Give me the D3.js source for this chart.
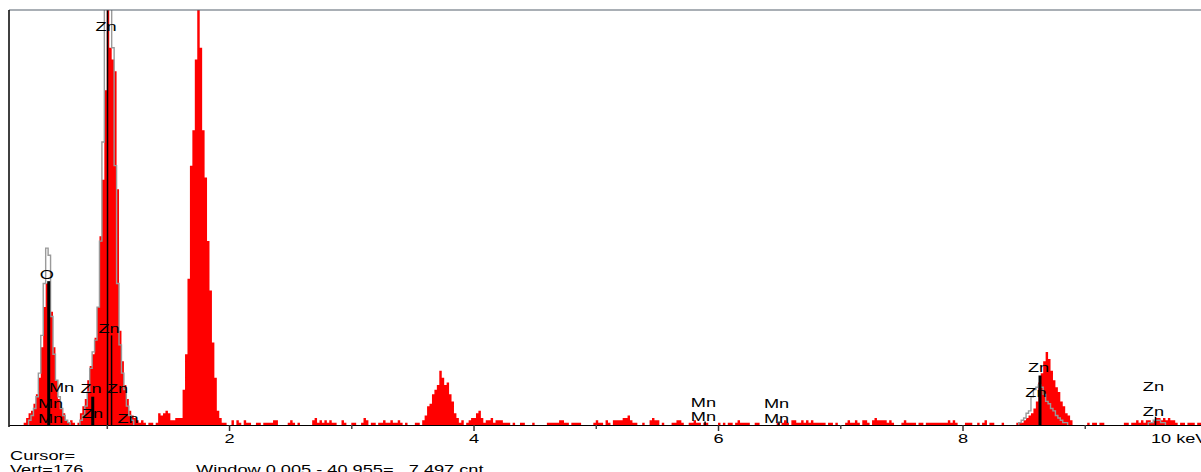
<!DOCTYPE html>
<html>
<head>
<meta charset="utf-8">
<script src="https://cdn.jsdelivr.net/npm/d3@7"></script>
<style>
  html, body { margin: 0; padding: 0; background: #fff; overflow: hidden; }
  svg { display: block; }
  text { font-family: "Liberation Sans", Arial, sans-serif; font-size: 13px; fill: #000; }
</style>
</head>
<body>
<svg id="chart" width="1201" height="472"></svg>
<script>
// EDS spectrum: counts per 20 eV channel starting at 0.20 keV
const energyStart = 0.20;
const channelWidth = 0.02;
const fullScale = 176;

const counts = [
  0,0,0,0,0,0,1,3,5,6,9,13,20,33,50,60,59,48,33,19,11,7,5,2,1,
  2,1,0,1,5,8,11,19,25,30,37,50,80,104,142,180,160,155,150,100,40,27,17,11,6,
  4,3,2,1,2,1,0,1,1,0,1,5,4,5,6,5,2,2,3,3,3,15,30,62,110,
  125,155,178,160,125,105,78,57,35,20,6,3,1,1,0,0,2,0,2,1,0,2,1,1,0,
  0,1,1,0,1,1,1,1,2,2,0,0,0,0,1,2,1,0,1,0,0,0,0,0,2,
  3,1,2,1,2,1,2,1,1,0,0,2,1,0,0,1,1,0,0,1,3,2,0,1,1,
  0,1,1,2,1,1,2,1,1,2,1,0,1,0,0,0,1,1,0,2,4,8,9,13,15,
  17,23,20,17,18,13,10,5,3,1,2,0,1,2,3,3,5,6,3,1,2,2,3,1,2,
  2,2,1,1,1,0,1,0,0,1,1,0,0,0,1,0,0,0,0,0,1,1,1,1,1,
  2,2,1,1,0,1,1,1,1,0,0,0,0,0,1,2,1,1,0,2,1,0,2,2,2,
  2,3,3,4,2,1,1,0,0,1,0,0,2,3,2,2,0,1,0,0,0,1,1,2,2,
  1,0,0,1,1,2,1,1,0,1,1,0,0,0,0,1,0,1,0,1,1,0,1,2,1,
  1,1,1,0,0,1,1,0,0,0,0,0,0,0,1,0,1,2,1,0,2,2,1,1,2,
  1,2,1,2,1,1,1,1,1,0,1,1,0,1,0,0,0,1,2,1,1,2,1,0,2,
  2,1,0,2,3,2,2,2,2,1,2,1,0,0,0,1,2,1,1,1,1,0,1,1,0,
  1,1,1,1,1,1,1,1,1,2,1,2,1,0,0,0,1,1,1,0,0,1,0,1,2,
  0,1,1,0,0,0,1,0,0,0,0,0,1,1,1,2,3,4,5,7,10,18,22,27,31,
  28,23,19,16,14,10,8,5,4,2,0,0,0,0,0,0,1,0,1,1,0,1,1,0,0,
  0,0,0,0,0,0,1,1,0,1,1,2,1,2,1,2,2,1,2,3,3,2,3,2,3,
  2,2,1,0,1,1,0,1,1,1,0,1,1,0,0
];

// Fitted line profiles (same channel width), each with its start energy
const fitStarts = [0.36, 0.78, 8.46, 9.52];
const fitO    = [2,4,7,12,22,38,60,75,72,46,30,19,12,7,4,2,1];
const fitZnL  = [2,4,8,14,24,31,36,50,78,120,185,200,190,160,110,60,34,22,15,8,4,2];
const fitZnKa = [1,2,3,5,6,12,15,16,17,16,13,10,9,7,6,4,3,2,1,1];
const fitZnKb = [1,1,2,2,2,1,1];
const fits = [fitO, fitZnL, fitZnKa, fitZnKb];

// KLM marker lines: energy (keV), height (counts), main line or not
const markerEnergy = [0.525, 0.885, 1.006, 1.039, 5.894, 6.499, 8.634, 9.579];
const markerHeight = [61, 12, 180, 38, 1.5, 1.5, 21, 3.5];
const markerMain   = [true, true, false, false, false, false, true, false];

// Element labels: text, energy (keV), height (counts)
const labelText   = ["Zn","O","Zn","Mn","Zn","Zn","Mn","Zn","Mn","Zn","Mn","Mn","Mn","Mn","Zn","Zn","Zn","Zn"];
const labelEnergy = [0.994,0.509,1.018,0.630,0.871,1.088,0.540,0.883,0.540,1.174,5.881,5.881,6.479,6.479,8.622,8.601,9.562,9.562];
const labelCount  = [167,62,39,14,13.6,13.6,7.2,3,0.85,0.85,7.6,1.7,7,0.85,22.5,11.9,14.4,3.8];

const majorTicks = [2, 4, 6, 8, 10];
const minorTicks = [1, 3, 5, 7, 9];

const cursorText = "Cursor=";
const vertText = "Vert=" + fullScale;
const windowText = "Window 0.005 - 40.955=   7.497 cnt";

// ---- layout ----
const W = 1201, H = 472;
const plotLeft = 9, plotTop = 10, baseY = 425;
const stretch = "scale(1.4,1)";

const svg = d3.select("#chart");

const x = d3.scaleLinear().domain([0.2, 10]).range([plotLeft, 1207]);
const y = d3.scaleLinear().domain([0, fullScale]).range([baseY, plotTop]);

svg.append("clipPath").attr("id", "plotClip")
  .append("rect").attr("x", plotLeft).attr("y", plotTop)
  .attr("width", W - plotLeft).attr("height", baseY - plotTop);

const plot = svg.append("g").attr("clip-path", "url(#plotClip)");

// spectrum as one stepped filled area (one step per channel)
const chan = counts.map((c, i) => ({ e: energyStart + i * channelWidth, c }));
chan.push({ e: energyStart + counts.length * channelWidth, c: 0 });
const stepArea = d3.area()
  .x(d => x(d.e)).y0(y(0)).y1(d => y(d.c))
  .curve(d3.curveStepAfter);
plot.append("path").datum(chan).attr("d", stepArea).attr("fill", "#ff0000");

// fitted profiles as step outlines
const stepLine = d3.line().x(p => x(p[0])).y(p => y(p[1])).curve(d3.curveStepAfter);
fits.forEach((vals, k) => {
  const e0 = fitStarts[k];
  const pts = [[e0, 0]].concat(vals.map((v, j) => [e0 + j * channelWidth, v]));
  pts.push([e0 + vals.length * channelWidth, 0]);
  plot.append("path").attr("d", stepLine(pts))
    .attr("fill", "none").attr("stroke", "#9a9a9a").attr("stroke-width", 1.4);
});

// marker lines
plot.append("g").selectAll("line").data(markerEnergy).join("line")
  .attr("x1", d => x(d)).attr("x2", d => x(d))
  .attr("y1", y(0)).attr("y2", (d, i) => y(markerHeight[i]))
  .attr("stroke", "#000")
  .attr("stroke-width", (d, i) => markerMain[i] ? 3 : 1.5);

// frame
svg.append("line").attr("x1", plotLeft).attr("x2", W).attr("y1", plotTop).attr("y2", plotTop)
  .attr("stroke", "#55616d").attr("stroke-width", 1.2);
svg.append("line").attr("x1", plotLeft).attr("x2", plotLeft).attr("y1", plotTop).attr("y2", baseY + 2)
  .attr("stroke", "#000").attr("stroke-width", 1.5);

// x axis
const axisMajor = svg.append("g").attr("transform", `translate(0,${baseY})`)
  .call(d3.axisBottom(x).tickValues(majorTicks).tickSize(6).tickSizeOuter(0)
    .tickFormat(d => d === 10 ? "10 keV" : String(d)));
axisMajor.select(".domain").attr("stroke", "#000").attr("stroke-width", 1.2);
axisMajor.selectAll(".tick line").attr("stroke", "#333").attr("stroke-width", 1.5);
axisMajor.selectAll(".tick text")
  .attr("transform", stretch)
  .attr("text-anchor", d => d === 10 ? "end" : "middle");

const axisMinor = svg.append("g").attr("transform", `translate(0,${baseY})`)
  .call(d3.axisBottom(x).tickValues(minorTicks).tickSize(4).tickSizeOuter(0).tickFormat(""));
axisMinor.select(".domain").remove();
axisMinor.selectAll(".tick line").attr("stroke", "#444").attr("stroke-width", 1.5);

// element labels
svg.append("g").selectAll("text").data(labelText).join("text")
  .attr("transform", (d, i) => `translate(${x(labelEnergy[i])},${y(labelCount[i])}) ${stretch}`)
  .attr("text-anchor", "middle")
  .text(d => d);

// status lines
svg.append("text").attr("transform", `translate(10,460) ${stretch}`).text(cursorText);
svg.append("text").attr("transform", `translate(10,474) ${stretch}`).text(vertText);
svg.append("text").attr("transform", `translate(196,474) ${stretch}`)
  .style("white-space", "pre").text(windowText);
</script>
</body>
</html>
